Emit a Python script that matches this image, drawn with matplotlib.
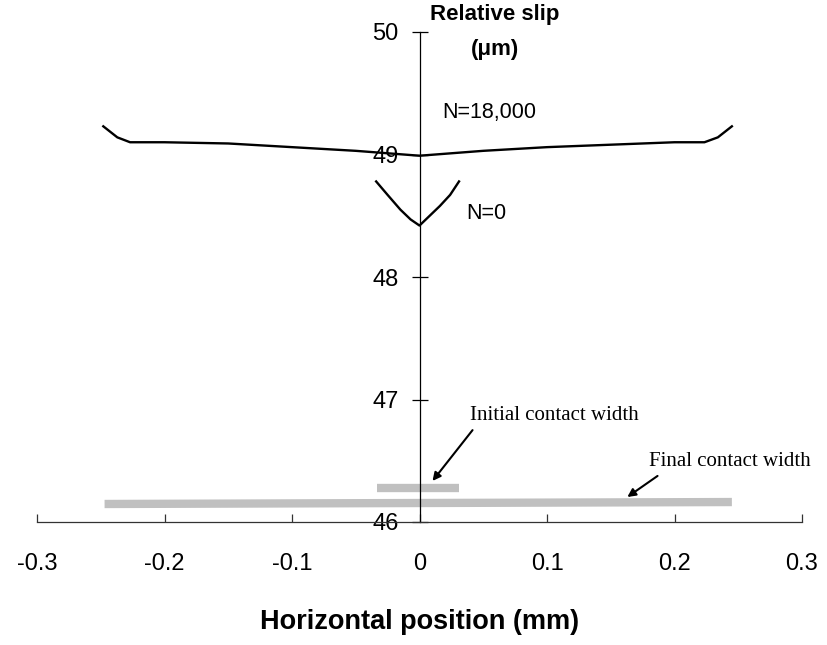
import matplotlib
matplotlib.use("Agg")
import matplotlib.pyplot as plt

# Data
n18_x = [-0.248, -0.237, -0.227, -0.20, -0.15, -0.10, -0.05, 0.0, 0.05, 0.10, 0.15, 0.20, 0.2235, 0.234, 0.245]
n18_y = [49.23, 49.14, 49.10, 49.10, 49.09, 49.06, 49.03, 48.99, 49.03, 49.06, 49.08, 49.10, 49.10, 49.14, 49.23]
n0_x = [-0.034, -0.025, -0.015, -0.007, 0.0, 0.008, 0.016, 0.024, 0.031]
n0_y = [48.78, 48.67, 48.55, 48.47, 48.42, 48.50, 48.58, 48.67, 48.78]
initial_x = [-0.033, 0.031]
initial_y = [46.28, 46.28]
final_x = [-0.247, 0.245]
final_y = [46.147, 46.163]
xticks = [-0.3, -0.2, -0.1, 0, 0.1, 0.2, 0.3]
xticklabels = ["-0.3", "-0.2", "-0.1", "0", "0.1", "0.2", "0.3"]
yticks = [46, 47, 48, 49, 50]
yticklabels = ["46", "47", "48", "49", "50"]

sans = ['Liberation Sans', 'DejaVu Sans']
serif = ['Liberation Serif', 'DejaVu Serif']

fig = plt.figure(figsize=(8.27, 6.45), dpi=100)
ax = fig.add_axes([37/827, 1-522/645, 765/827, 490/645])
ax.set_xlim(-0.3, 0.3)
ax.set_ylim(46, 50)

ax.plot(final_x, final_y, color='#c0c0c0', lw=6, solid_capstyle='butt', zorder=2)
ax.plot(initial_x, initial_y, color='#c0c0c0', lw=6, solid_capstyle='butt', zorder=2)
ax.plot(n18_x, n18_y, color='black', lw=1.7, zorder=3)
ax.plot(n0_x, n0_y, color='black', lw=1.7, zorder=3)

for s in ['top', 'right']:
    ax.spines[s].set_visible(False)
ax.spines['left'].set_position(('data', 0))
ax.spines['bottom'].set_position(('data', 46))
ax.spines['left'].set_linewidth(0.9)
ax.spines['bottom'].set_linewidth(0.9)
ax.spines['bottom'].set_color('#333333')

ax.set_xticks(xticks)
ax.set_xticklabels(xticklabels, family=sans, fontsize=17)
ax.set_yticks(yticks)
ax.set_yticklabels(yticklabels, family=sans, fontsize=17)
ax.tick_params(axis='x', direction='in', length=6, width=0.9, pad=22, color='#333333')
ax.tick_params(axis='y', direction='inout', length=12, width=0.9, pad=9)

ax.text(0.059, 50.14, "Relative slip", ha='center', va='center', fontsize=16,
        fontweight='bold', family=sans, clip_on=False)
ax.text(0.059, 49.86, "(\u03bcm)", ha='center', va='center', fontsize=16,
        fontweight='bold', family=sans, clip_on=False)
fig.text(420/827, 1-622/645, "Horizontal position (mm)", ha='center', va='center',
         fontsize=19.5, fontweight='bold', family=sans)

ax.text(0.018, 49.34, "N=18,000", ha='left', va='center', fontsize=15.5, family=sans)
ax.text(0.037, 48.52, "N=0", ha='left', va='center', fontsize=15.5, family=sans)

ax.annotate("", xy=(0.0102, 46.335), xytext=(0.0416, 46.75),
            arrowprops=dict(arrowstyle='-|>', color='black', lw=1.5, mutation_scale=12,
                            shrinkA=0, shrinkB=0))
ax.text(0.040, 46.873, "Initial contact width", ha='left', va='center', fontsize=15, family=serif)
ax.annotate("", xy=(0.163, 46.204), xytext=(0.1867, 46.376),
            arrowprops=dict(arrowstyle='-|>', color='black', lw=1.5, mutation_scale=12,
                            shrinkA=0, shrinkB=0))
ax.text(0.180, 46.49, "Final contact width", ha='left', va='center', fontsize=15, family=serif)

fig.savefig("out.png", dpi=100)
